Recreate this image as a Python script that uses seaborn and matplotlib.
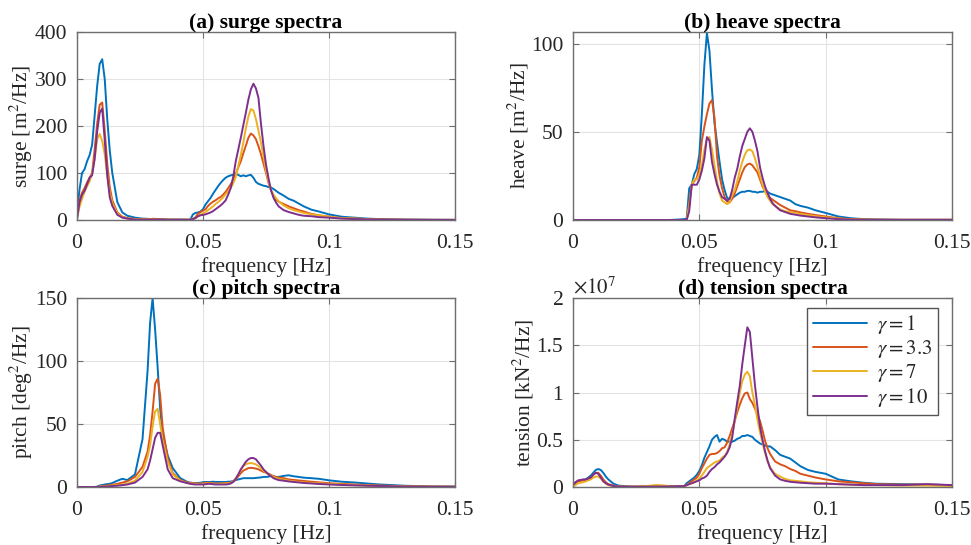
import numpy as np
import pandas as pd
import matplotlib
matplotlib.use("Agg")
import matplotlib.pyplot as plt
import seaborn as sns
from matplotlib.ticker import FuncFormatter

# ---------------- data ----------------
freq = [0.000, 0.001, 0.002, 0.003, 0.004, 0.005, 0.006, 0.007, 0.008, 0.009, 0.010, 0.011, 0.012, 0.013, 0.014,
        0.016, 0.018, 0.020, 0.023, 0.026, 0.028, 0.029, 0.030, 0.031, 0.032, 0.033, 0.034, 0.036, 0.038, 0.041, 0.044,
        0.045, 0.046, 0.047, 0.048, 0.049, 0.050, 0.051, 0.052, 0.053, 0.054, 0.055, 0.056, 0.057, 0.058, 0.059,
        0.060, 0.061, 0.062, 0.063, 0.064, 0.065, 0.066, 0.067, 0.068, 0.069, 0.070, 0.071, 0.072, 0.073, 0.074,
        0.075, 0.076, 0.077, 0.078, 0.079, 0.080,
        0.082, 0.084, 0.086, 0.088, 0.090, 0.093, 0.096, 0.100, 0.105, 0.110, 0.115, 0.120, 0.130, 0.140, 0.150]

gamma_labels = [r"$\gamma = 1$", r"$\gamma = 3.3$", r"$\gamma = 7$", r"$\gamma = 10$"]

# surge spectra [m^2/Hz]
surge_g1 = [15, 65, 100, 108, 125, 138, 160, 222, 285, 332, 342, 300, 215, 148, 100,
            38, 16, 9, 5, 3, 2.5, 2, 2, 2, 2, 1.5, 1.5, 1, 1, 1, 0.5,
            1, 12, 15, 16, 18, 23, 33, 40, 47, 56, 64, 72, 79, 85, 90,
            93, 95, 96, 98, 96, 93, 95, 93, 95, 96, 90, 81, 77, 75, 73, 72, 70, 69, 66, 62, 58,
            52, 45, 41, 35, 29, 22, 18, 12, 7, 5, 3, 2, 1, 0.5, 0.3]
surge_g33 = [5, 42, 58, 68, 80, 90, 100, 150, 205, 245, 250, 190, 120, 70, 42,
             16, 7, 4, 2, 1.5, 2, 2, 2.5, 2.5, 2, 1.5, 1, 1, 0.5, 0.5, 0.5,
             0.5, 2, 6, 13, 17, 20, 23, 30, 35, 39, 42, 46, 49, 54, 60,
             68, 76, 86, 98, 112, 125, 142, 158, 175, 184, 180, 172, 157, 140, 120, 100, 79, 63, 51, 43, 39,
             34, 29, 25, 21, 18, 13, 10, 7, 4, 3, 2, 1, 0.5, 0.3, 0.2]
surge_g7 = [3, 28, 45, 60, 72, 82, 100, 130, 172, 183, 168, 140, 95, 58, 36,
            14, 6, 3, 2, 1.5, 1.5, 1.5, 1.5, 1, 1, 1, 1, 1, 0.5, 0.5, 0.5,
            0.5, 2, 4, 8, 11, 14, 17, 21, 25, 29, 34, 38, 43, 48, 55,
            61, 68, 78, 92, 115, 138, 165, 195, 220, 236, 233, 215, 190, 165, 135, 105, 82, 64, 54, 46, 40,
            31, 25, 21, 18, 15, 12, 10, 7, 4, 3, 2, 1, 0.5, 0.3, 0.2]
surge_g10 = [2, 38, 54, 62, 76, 90, 95, 130, 188, 228, 237, 170, 95, 48, 30,
             11, 5, 3, 1, 1, 1, 1, 1, 1, 1, 1, 1, 0.5, 0.5, 0.5, 0.5,
             0.5, 2, 4, 8, 10, 11, 12, 14, 16, 19, 23, 27, 31, 36, 42,
             54, 68, 92, 125, 150, 175, 202, 228, 256, 278, 290, 280, 260, 205, 158, 118, 89, 63, 47, 37, 29,
             21, 17, 14, 11, 9, 8, 6, 5, 3, 2, 1.5, 1, 0.5, 0.3, 0.2]

# heave spectra [m^2/Hz]
heave_g1 = [0, 0, 0, 0, 0, 0, 0, 0, 0, 0, 0, 0, 0, 0, 0,
            0, 0, 0, 0, 0, 0, 0, 0, 0, 0, 0, 0, 0, 0, 0.2, 0.5,
            0.8, 18, 20, 26, 29, 37, 60, 88, 106, 96, 74, 55, 44, 33, 23,
            17, 12.5, 12, 12.5, 13.5, 14.5, 15.5, 16, 16, 16.5, 16.5, 16, 16, 15.5, 16, 16, 16.5, 16, 15, 14.5, 14,
            13, 12, 11, 9, 8, 7, 5.5, 4, 2, 1, 0.5, 0.3, 0.1, 0.1, 0.1]
heave_g33 = [0, 0, 0, 0, 0, 0, 0, 0, 0, 0, 0, 0, 0, 0, 0,
             0, 0, 0, 0, 0, 0, 0, 0, 0, 0, 0, 0, 0, 0, 0, 0,
             0, 10, 20, 22, 24, 30, 45, 53, 60, 66, 68, 58, 36, 25, 18,
             13, 10.5, 10, 12, 15, 19, 23, 27, 30, 31.5, 32, 31, 29, 27, 23, 19, 16.5, 14.5, 12.5, 11.5, 10.5,
             8.5, 7, 5.5, 5, 4.3, 3.5, 2.8, 2, 1, 0.5, 0.3, 0.2, 0.1, 0.1, 0.1]
heave_g7 = [0, 0, 0, 0, 0, 0, 0, 0, 0, 0, 0, 0, 0, 0, 0,
            0, 0, 0, 0, 0, 0, 0, 0, 0, 0, 0, 0, 0, 0, 0, 0,
            0, 8, 20, 23, 23, 26, 31, 40, 46, 47, 40, 31, 22, 15, 11,
            10, 9, 10, 14, 17, 22, 28, 33, 37, 39.5, 40, 39, 35, 30, 25, 20, 16, 13, 11, 9, 8,
            6, 5, 4.5, 4, 3.4, 2.8, 2.2, 1.5, 0.8, 0.4, 0.2, 0.1, 0.1, 0.1, 0.1]
heave_g10 = [0, 0, 0, 0, 0, 0, 0, 0, 0, 0, 0, 0, 0, 0, 0,
             0, 0, 0, 0, 0, 0, 0, 0, 0, 0, 0, 0, 0, 0, 0, 0,
             0, 5, 20, 20, 20, 23, 28, 35, 47, 45, 33, 26, 20, 16, 13,
             12, 11, 12, 17, 24, 29, 36, 42, 46, 50, 52, 50, 45, 39, 30, 24, 19, 15.5, 12, 9.5, 8,
             5.5, 4.5, 3.5, 3, 2.5, 2, 1.5, 1, 0.5, 0.3, 0.1, 0.1, 0.1, 0.1, 0.1]

# pitch spectra [deg^2/Hz]
pitch_g1 = [0, 0, 0, 0, 0, 0, 0, 0, 0.3, 1.2, 1.5, 2, 2.3, 2.5, 3.2,
            5, 6.5, 5.5, 10, 38, 92, 130, 150, 125, 95, 62, 42, 25, 15, 7, 3.8,
            3.5, 3.2, 3.2, 3.2, 3.4, 3.8, 4, 4, 4, 4.2, 4, 4, 4, 4, 4,
            4.2, 4.3, 4.8, 5.5, 6, 6.5, 7, 7, 7, 7, 7, 7.2, 7.4, 7.6, 8, 8, 8.2, 8.8, 8.5, 8, 8,
            8.8, 9.3, 8.5, 8, 7.4, 7, 6.5, 5.3, 4.2, 3.6, 2.8, 2, 1, 0.5, 0.3]
pitch_g33 = [0, 0, 0, 0, 0, 0, 0, 0, 0, 0.5, 0.8, 1, 1.2, 1.5, 1.8,
             2.5, 3.5, 4.5, 8, 16, 28, 41, 60, 82, 86, 73, 47, 23, 11, 5.5, 3.5,
             3.2, 3, 2.8, 2.7, 2.7, 3, 3.2, 3.5, 3.2, 3, 2.8, 2.7, 2.8, 3, 3,
             3.2, 3.5, 4.5, 6, 8.5, 11, 13, 14, 15, 15.2, 15, 14.6, 14, 13, 12, 11.4, 10.5, 9.6, 8.5, 8, 7.5,
             7, 6, 5.6, 5.2, 4.8, 4.2, 3.7, 3, 2.5, 2, 1.5, 1.2, 0.6, 0.3, 0.2]
pitch_g7 = [0, 0, 0, 0, 0, 0, 0, 0, 0, 0.3, 0.5, 0.6, 0.8, 1, 1.2,
            1.6, 2, 2.5, 5, 12, 24, 33, 48, 60, 62, 50, 37, 20, 10, 5, 3,
            2.8, 2.7, 2.6, 2.5, 2.5, 2.6, 2.8, 3, 2.8, 2.6, 2.5, 2.5, 2.6, 2.7, 2.8,
            2.9, 3, 4.5, 7, 10, 13.5, 16.5, 18, 18.8, 19, 18.6, 18, 16.5, 15, 13, 11.5, 10, 9, 8, 7.2, 6.5,
            5.8, 5, 4.5, 4, 3.7, 3.3, 3, 2.5, 2, 1.5, 1.2, 0.9, 0.5, 0.3, 0.2]
pitch_g10 = [0, 0, 0, 0, 0, 0, 0, 0, 0, 0.2, 0.3, 0.4, 0.5, 0.6, 0.8,
             1, 1.5, 2, 3.5, 8, 14, 21, 30, 39, 43, 43, 33, 14, 7, 4.5, 3,
             2.5, 2.2, 2, 2, 2, 2, 2.2, 2.5, 2.5, 2.2, 2, 2, 2, 2, 2,
             2.2, 2.8, 4, 6.5, 10, 14, 17, 20, 22, 23, 23, 22, 19.5, 17, 14, 12, 10, 8.5, 7, 6.2, 5.5,
             5, 4.4, 4, 3.6, 3.2, 2.8, 2.4, 2, 1.6, 1.3, 1, 0.8, 0.4, 0.2, 0.2]

# tension spectra [x1e7 kN^2/Hz]
tension_g1 = [0.02, 0.05, 0.063, 0.07, 0.075, 0.08, 0.1, 0.12, 0.15, 0.18, 0.19, 0.18, 0.15, 0.11, 0.08,
              0.035, 0.015, 0.01, 0.005, 0.004, 0.004, 0.004, 0.004, 0.005, 0.005, 0.005, 0.005, 0.006, 0.006, 0.008, 0.01,
              0.04, 0.06, 0.08, 0.1, 0.13, 0.17, 0.23, 0.31, 0.37, 0.43, 0.5, 0.53, 0.55, 0.48, 0.51,
              0.5, 0.48, 0.48, 0.48, 0.49, 0.51, 0.52, 0.54, 0.54, 0.55, 0.54, 0.53, 0.5, 0.48, 0.46, 0.45, 0.44, 0.43, 0.43, 0.41, 0.39,
              0.34, 0.32, 0.3, 0.26, 0.22, 0.18, 0.16, 0.14, 0.08, 0.06, 0.045, 0.035, 0.03, 0.025, 0.02]
tension_g33 = [0.02, 0.04, 0.06, 0.065, 0.07, 0.075, 0.09, 0.1, 0.13, 0.15, 0.15, 0.12, 0.08, 0.05, 0.03,
               0.015, 0.005, 0.003, 0.003, 0.004, 0.005, 0.006, 0.006, 0.008, 0.01, 0.012, 0.013, 0.012, 0.01, 0.008, 0.01,
               0.02, 0.04, 0.06, 0.08, 0.1, 0.14, 0.2, 0.25, 0.3, 0.34, 0.35, 0.35, 0.36, 0.38, 0.41,
               0.42, 0.47, 0.54, 0.62, 0.7, 0.79, 0.87, 0.94, 0.99, 1.0, 0.93, 0.89, 0.83, 0.77, 0.7, 0.6, 0.49, 0.41, 0.35, 0.31, 0.27,
               0.24, 0.22, 0.19, 0.17, 0.14, 0.12, 0.1, 0.08, 0.06, 0.05, 0.04, 0.03, 0.025, 0.025, 0.02]
tension_g7 = [0.01, 0.02, 0.04, 0.045, 0.05, 0.06, 0.07, 0.08, 0.1, 0.11, 0.11, 0.09, 0.06, 0.035, 0.02,
              0.01, 0.005, 0.003, 0.004, 0.006, 0.008, 0.01, 0.012, 0.015, 0.018, 0.02, 0.018, 0.015, 0.01, 0.008, 0.01,
              0.02, 0.03, 0.04, 0.05, 0.07, 0.09, 0.12, 0.16, 0.2, 0.22, 0.24, 0.26, 0.27, 0.28, 0.31,
              0.33, 0.37, 0.45, 0.56, 0.69, 0.84, 1.0, 1.12, 1.19, 1.22, 1.17, 1.0, 0.87, 0.71, 0.58, 0.47, 0.36, 0.27, 0.21, 0.17, 0.14,
              0.11, 0.085, 0.07, 0.065, 0.06, 0.05, 0.045, 0.04, 0.03, 0.025, 0.02, 0.02, 0.015, 0.015, 0.01]
tension_g10 = [0.02, 0.05, 0.07, 0.075, 0.08, 0.08, 0.09, 0.1, 0.13, 0.15, 0.14, 0.1, 0.06, 0.04, 0.025,
               0.01, 0.005, 0.003, 0.003, 0.003, 0.004, 0.004, 0.004, 0.005, 0.005, 0.005, 0.005, 0.005, 0.006, 0.008, 0.01,
               0.02, 0.03, 0.04, 0.05, 0.06, 0.07, 0.09, 0.1, 0.12, 0.16, 0.19, 0.21, 0.24, 0.26, 0.29,
               0.32, 0.36, 0.42, 0.52, 0.72, 0.9, 1.07, 1.3, 1.5, 1.69, 1.64, 1.36, 1.08, 0.85, 0.64, 0.5, 0.38, 0.28, 0.2, 0.16, 0.12,
               0.08, 0.065, 0.055, 0.05, 0.045, 0.04, 0.035, 0.035, 0.03, 0.025, 0.02, 0.02, 0.02, 0.03, 0.02]

x_ticks = [0, 0.05, 0.1, 0.15]
x_ticklabels = ["0", "0.05", "0.1", "0.15"]

# ---------------- style ----------------
sns.set_theme(style="white")
plt.rcParams["font.family"] = ["Liberation Serif", "DejaVu Serif"]
plt.rcParams["mathtext.fontset"] = "stix"

colors = ["#0072BD", "#D95319", "#EDB120", "#7E2F8E"]
edge = "#6e6e6e"
txt = "#262626"

fig = plt.figure(figsize=(9.71, 5.45), dpi=100)

panels = [
    dict(key="a", title="(a) surge spectra", ylabel="surge [m$^2$/Hz]",
         series=[surge_g1, surge_g33, surge_g7, surge_g10], scale=1.0,
         ylim=(0, 400), yticks=[0, 100, 200, 300, 400],
         pos=[77 / 971, 1 - 220 / 545, 378 / 971, 188 / 545]),
    dict(key="b", title="(b) heave spectra", ylabel="heave [m$^2$/Hz]",
         series=[heave_g1, heave_g33, heave_g7, heave_g10], scale=1.0,
         ylim=(0, 106.6), yticks=[0, 50, 100],
         pos=[573 / 971, 1 - 220 / 545, 379 / 971, 188 / 545]),
    dict(key="c", title="(c) pitch spectra", ylabel="pitch [deg$^2$/Hz]",
         series=[pitch_g1, pitch_g33, pitch_g7, pitch_g10], scale=1.0,
         ylim=(0, 150), yticks=[0, 50, 100, 150],
         pos=[77 / 971, 1 - 487 / 545, 378 / 971, 189 / 545]),
    dict(key="d", title="(d) tension spectra", ylabel="tension [kN$^2$/Hz]",
         series=[tension_g1, tension_g33, tension_g7, tension_g10], scale=1e7,
         ylim=(0, 2e7), yticks=[0, 0.5e7, 1e7, 1.5e7, 2e7],
         pos=[573 / 971, 1 - 487 / 545, 379 / 971, 189 / 545]),
]

for p in panels:
    ax = fig.add_axes(p["pos"])
    frames = []
    for lab, vals in zip(gamma_labels, p["series"]):
        frames.append(pd.DataFrame({"freq": freq,
                                    "value": np.asarray(vals, dtype=float) * p["scale"],
                                    "gamma": lab}))
    df = pd.concat(frames, ignore_index=True)
    sns.lineplot(data=df, x="freq", y="value", hue="gamma", hue_order=gamma_labels,
                 palette=colors, ax=ax, linewidth=1.4, estimator=None, errorbar=None,
                 legend=(p["key"] == "d"))
    ax.set_xlim(0, 0.15)
    ax.set_ylim(*p["ylim"])
    ax.set_xticks(x_ticks)
    ax.set_xticklabels(x_ticklabels)
    ax.set_yticks(p["yticks"])
    if p["key"] == "d":
        ax.yaxis.set_major_formatter(FuncFormatter(lambda v, pos: f"{v / 1e7:g}"))
        ax.text(0.0, 1.0, r"$\times 10^{7}$", transform=ax.transAxes, ha="left", va="bottom",
                fontsize=15, color=txt)
    ax.grid(True, color="#e3e3e3", linewidth=0.8)
    ax.set_axisbelow(True)
    for s in ax.spines.values():
        s.set_color(edge)
        s.set_linewidth(1.0)
    ax.tick_params(direction="in", length=4, width=0.8, colors=edge, labelcolor=txt,
                   labelsize=15.5, top=True, right=True, bottom=True, left=True)
    ax.tick_params(axis="x", pad=10)
    ax.tick_params(axis="y", pad=7)
    ax.set_xlabel("frequency [Hz]", fontsize=15.5, color=txt, labelpad=3)
    ax.set_ylabel(p["ylabel"], fontsize=15.5, color=txt, labelpad=0)
    ax.set_title(p["title"], fontsize=15.5, fontweight="bold", color="black", pad=3)
    if p["key"] == "d":
        leg = ax.legend(loc="upper right", bbox_to_anchor=(0.963, 0.947), borderaxespad=0,
                        fontsize=15, frameon=True, fancybox=False, framealpha=1,
                        edgecolor="#555555", handlelength=2.6, handletextpad=0.5,
                        labelspacing=0.1, borderpad=0.25, title=None)
        leg.get_frame().set_linewidth(1.0)

fig.savefig("out.png", dpi=100)
